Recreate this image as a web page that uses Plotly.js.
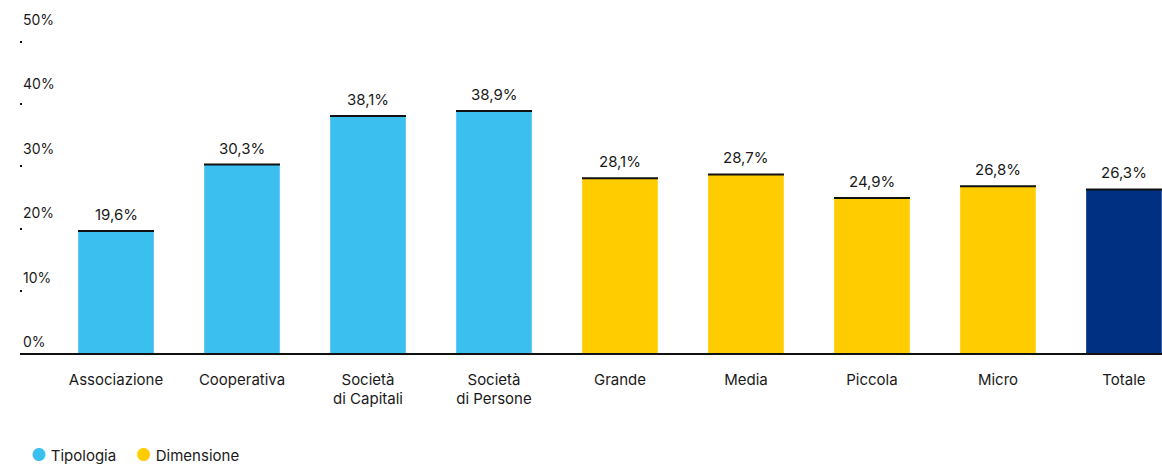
<!DOCTYPE html>
<html>
<head>
<meta charset="utf-8">
<script src="https://cdn.plot.ly/plotly-3.0.1.min.js"></script>
<style>html,body{margin:0;padding:0;background:#fff;}#chart{width:1162px;height:464px;}</style>
</head>
<body>
<div id="chart"></div>
<script>
const categories = ["Associazione", "Cooperativa", "Società<br>di Capitali", "Società<br>di Persone", "Grande", "Media", "Piccola", "Micro", "Totale"];
const tipologiaCats = ["Associazione", "Cooperativa", "Società<br>di Capitali", "Società<br>di Persone"];
const tipologiaVals = [19.6, 30.3, 38.1, 38.9];
const dimensioneCats = ["Grande", "Media", "Piccola", "Micro"];
const dimensioneVals = [28.1, 28.7, 24.9, 26.8];
const totaleCats = ["Totale"];
const totaleVals = [26.3];
const yTicks = [0, 10, 20, 30, 40, 50];
const yTickLabels = ["0%", "10%", "20%", "30%", "40%", "50%"];
const legendNames = ["Tipologia", "Dimensione"];

const FONT = "Inter, 'Open Sans', sans-serif";
const TXT = "#1a1a1a";
const COL_T = "#3BBFEF", COL_D = "#FFCC00", COL_TOT = "#003082";
const legendColors = [COL_T, COL_D];

function barTrace(cats, vals, color) {
  return {
    type: "bar", x: cats, y: vals, width: 0.6,
    marker: {color: color, line: {width: 0}},
    showlegend: false, hoverinfo: "skip",
    error_y: {type: "data", array: vals.map(() => 0), visible: true, width: 38, thickness: 2, color: "#111"}
  };
}
function fmt(v) { return v.toFixed(1).replace(".", ",") + "%"; }

const allCats = tipologiaCats.concat(dimensioneCats, totaleCats);
const allVals = tipologiaVals.concat(dimensioneVals, totaleVals);
const annotations = allCats.map((c, i) => ({
  x: c, y: allVals[i], xref: "x", yref: "y", text: fmt(allVals[i]),
  showarrow: false, yanchor: "bottom", yshift: 5,
  font: {family: FONT, size: 15, color: TXT}
}));
// legend (circle + label)
const legendX = [0.0079, 0.0994];
legendNames.forEach((n, i) => {
  annotations.push({
    xref: "paper", yref: "paper", x: legendX[i], y: -0.289, xanchor: "left", yanchor: "middle",
    showarrow: false,
    text: '<span style="color:' + legendColors[i] + ';font-size:17px">●</span> ' + n,
    font: {family: FONT, size: 15, color: TXT}
  });
});

const data = [
  barTrace(tipologiaCats, tipologiaVals, COL_T),
  barTrace(dimensioneCats, dimensioneVals, COL_D),
  barTrace(totaleCats, totaleVals, COL_TOT),
  // invisible trace carrying the tick-label axis
  {type: "scatter", mode: "markers", x: [categories[0]], y: [null], yaxis: "y2", showlegend: false, hoverinfo: "skip"}
];

const layout = {
  width: 1162, height: 464,
  margin: {l: 20, r: 0, t: 0, b: 111, autoexpand: false},
  paper_bgcolor: "#fff", plot_bgcolor: "#fff",
  font: {family: FONT, size: 15, color: TXT},
  barmode: "overlay",
  showlegend: false,
  xaxis: {
    type: "category", categoryorder: "array", categoryarray: categories,
    range: [-0.762, 8.302], showgrid: false, zeroline: false,
    showline: true, linecolor: "#111", linewidth: 1.5,
    ticks: "", ticklabelstandoff: 12,
    tickfont: {family: FONT, size: 15, color: TXT}, fixedrange: true
  },
  yaxis: {
    range: [0, 56.75], tickvals: yTicks, showticklabels: false,
    showgrid: false, zeroline: false, showline: false,
    ticks: "inside", ticklen: 2, tickwidth: 2, tickcolor: "#111", fixedrange: true
  },
  yaxis2: {
    overlaying: "y", side: "left", range: [-1.708, 53.106],
    tickvals: yTicks, ticktext: yTickLabels,
    showgrid: false, zeroline: false, showline: false, ticks: "",
    ticklabelposition: "inside",
    tickfont: {family: FONT, size: 14, color: TXT}, fixedrange: true
  },
  annotations: annotations
};

Plotly.newPlot("chart", data, layout, {displayModeBar: false, staticPlot: true});
</script>
</body>
</html>
